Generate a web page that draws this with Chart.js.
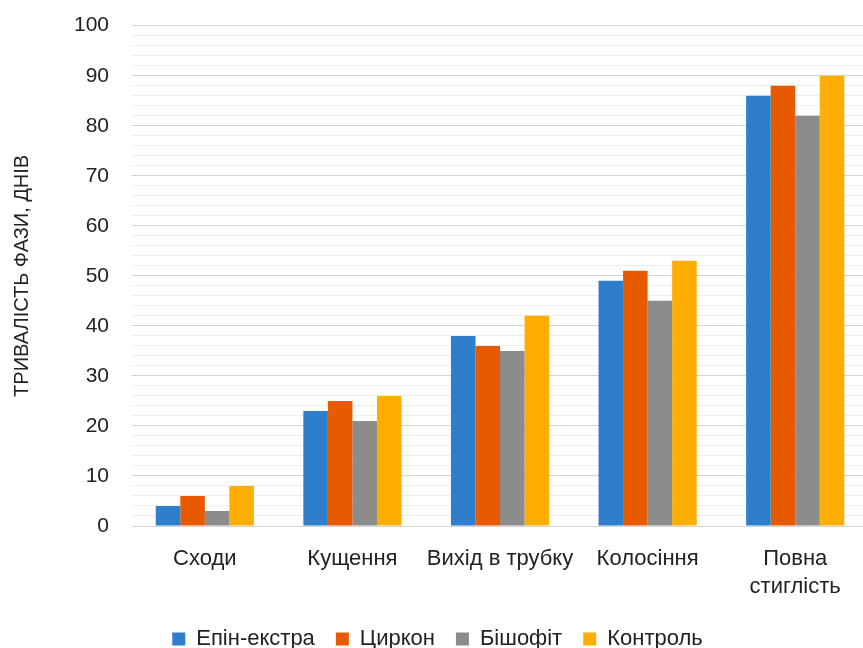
<!DOCTYPE html>
<html>
<head>
<meta charset="utf-8">
<title>Тривалість фаз</title>
<script src="https://cdn.jsdelivr.net/npm/chart.js@4/dist/chart.umd.min.js"></script>
<style>
  html, body { margin: 0; padding: 0; overflow: hidden; background: #fff; }
  #wrap { width: 869px; height: 648px; }
</style>
</head>
<body>
<div id="wrap"><canvas id="chart"></canvas></div>
<script>
  // categories and series
  var phases = ["Сходи", "Кущення", "Вихід в трубку", "Колосіння", ["Повна", "стиглість"]];
  var epin = [4, 23, 38, 49, 86];
  var tsyrkon = [6, 25, 36, 51, 88];
  var bishofit = [3, 21, 35, 45, 82];
  var kontrol = [8, 26, 42, 53, 90];

  var font = "'Liberation Sans', Arial, sans-serif";

  function ds(label, data, color) {
    return {
      label: label,
      data: data,
      backgroundColor: color,
      borderWidth: 0,
      categoryPercentage: 0.665,
      barPercentage: 1.0
    };
  }

  new Chart(document.getElementById("chart"), {
    type: "bar",
    data: {
      labels: phases,
      datasets: [
        ds("Епін-екстра", epin, "#2e7ecb"),
        ds("Циркон", tsyrkon, "#e85a00"),
        ds("Бішофіт", bishofit, "#8c8c8c"),
        ds("Контроль", kontrol, "#ffad00")
      ]
    },
    options: {
      responsive: true,
      maintainAspectRatio: false,
      animation: false,
      // negative bottom padding pushes the legend down to the page edge
      layout: { padding: { top: 0, left: 6, right: 0, bottom: -12 } },
      plugins: {
        tooltip: { enabled: false },
        legend: {
          position: "bottom",
          labels: {
            boxWidth: 13,
            boxHeight: 13,
            padding: 21,
            color: "#222",
            font: { family: font, size: 22 }
          }
        }
      },
      scales: {
        x: {
          grid: { display: false },
          border: { display: false },
          ticks: { color: "#222", padding: 11, autoSkip: false, font: { family: font, size: 22, lineHeight: 1.27 }, maxRotation: 0 },
          afterFit: function (s) { s.height = 81; }
        },
        y: {
          min: 0,
          max: 100,
          border: { display: false },
          ticks: {
            stepSize: 2,
            autoSkip: false,
            color: "#222",
            padding: 22,
            font: { family: font, size: 21, lineHeight: 0.35 },
            callback: function (v) { return v % 10 === 0 ? v : ""; }
          },
          grid: {
            drawTicks: false,
            color: function (c) { return c.tick.value % 10 === 0 ? "#d4d4d4" : "#eeeeee"; }
          },
          title: {
            display: true,
            text: "ТРИВАЛІСТЬ ФАЗИ, ДНІВ",
            color: "#222",
            padding: { bottom: 18 },
            font: { family: font, size: 20 }
          }
        }
      }
    }
  });
</script>
</body>
</html>
